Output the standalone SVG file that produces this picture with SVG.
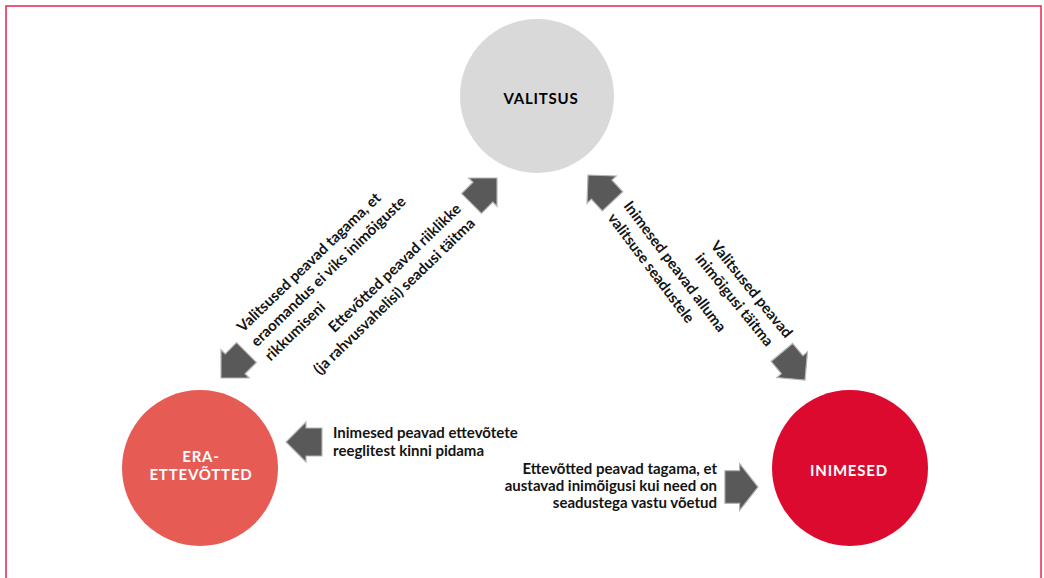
<svg xmlns="http://www.w3.org/2000/svg" xmlns:xlink="http://www.w3.org/1999/xlink" width="1044" height="578" viewBox="0 0 1044 578">
<style>
.node-label{font-family:Lato,"Liberation Sans",sans-serif;font-weight:700;font-size:15px;letter-spacing:0.8px;text-anchor:middle}
.lbl{font-family:Lato,"Liberation Sans",sans-serif;font-weight:700;font-size:15px;fill:#141414}
.arrow{fill:#595959;stroke:#b5b5b5;stroke-width:1.2;stroke-linejoin:miter}
</style>
<defs>
<path id="arr" d="M0,0 L-20,-20 L-20,-14 L-36,-14 L-36,14 L-20,14 L-20,20 Z"/>
</defs>
<rect x="6" y="6" width="1035" height="590" fill="#ffffff" stroke="#e8234a" stroke-width="1.5"/>
<g id="connectors">
<use xlink:href="#arr" class="arrow" transform="translate(497,178) rotate(-45)"/>
<use xlink:href="#arr" class="arrow" transform="translate(221,378) rotate(135)"/>
<use xlink:href="#arr" class="arrow" transform="translate(588,175) rotate(-133)"/>
<use xlink:href="#arr" class="arrow" transform="translate(805,380) rotate(50)"/>
<use xlink:href="#arr" class="arrow" transform="translate(286,442) rotate(180)"/>
<use xlink:href="#arr" class="arrow" transform="translate(758,487) scale(0.92,1.17)"/>
</g>
<g id="node-valitsus">
<circle cx="537" cy="96" r="77" fill="#d9d9d9"/>
<text class="node-label" x="541" y="104" fill="#000000">VALITSUS</text>
</g>
<g id="node-era">
<circle cx="200" cy="468" r="78" fill="#e65c55"/>
<text class="node-label" x="201" y="462" fill="#ffffff">ERA-</text>
<text class="node-label" x="201" y="480" fill="#ffffff">ETTEVÕTTED</text>
</g>
<g id="node-inimesed">
<circle cx="850" cy="468" r="78" fill="#dc0a2e"/>
<text class="node-label" x="849" y="476" fill="#ffffff">INIMESED</text>
</g>
<g id="labels">
<text class="lbl" transform="translate(243,333) rotate(-44)"><tspan x="0" y="0">Valitsused peavad tagama, et</tspan><tspan x="0" y="20">eraomandus ei viks inimõiguste</tspan><tspan x="0" y="40">rikkumiseni</tspan></text>
<text class="lbl" text-anchor="end" transform="translate(462,210) rotate(-44)"><tspan x="0" y="0">Ettevõtted peavad riiklikke</tspan><tspan x="0" y="20">(ja rahvusvahelisi) seadusi täitma</tspan></text>
<text class="lbl" transform="translate(623,206) rotate(53)"><tspan x="0" y="0">Inimesed peavad alluma</tspan><tspan x="0" y="20">valitsuse seadustele</tspan></text>
<text class="lbl" transform="translate(710,246) rotate(51)"><tspan x="0" y="0">Valitsused peavad</tspan><tspan x="0" y="20">inimõigusi täitma</tspan></text>
<text class="lbl"><tspan x="333" y="438">Inimesed peavad ettevõtete</tspan><tspan x="333" y="456">reeglitest kinni pidama</tspan></text>
<text class="lbl" text-anchor="end"><tspan x="717" y="474">Ettevõtted peavad tagama, et</tspan><tspan x="717" y="491">austavad inimõigusi kui need on</tspan><tspan x="717" y="508">seadustega vastu võetud</tspan></text>
</g>
</svg>
